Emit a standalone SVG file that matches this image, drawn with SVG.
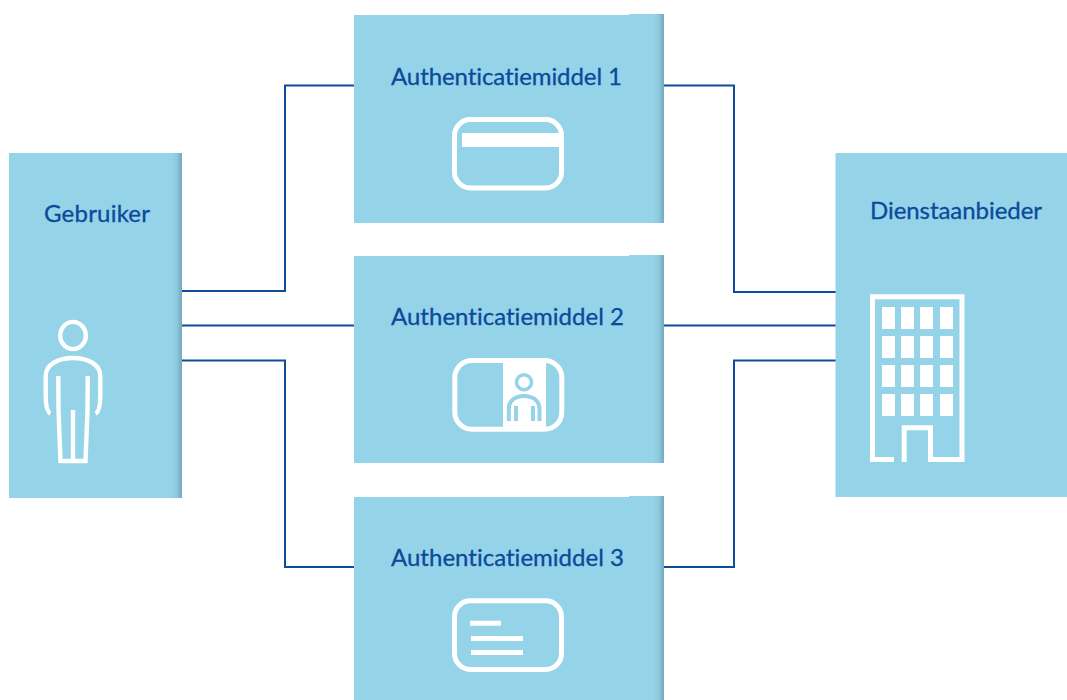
<svg xmlns="http://www.w3.org/2000/svg" width="1067" height="700" viewBox="0 0 1067 700">
<style>
.box{fill:#95d3e9}
.sh{fill:url(#edge)}
.lbl{font-family:"Lato","Noto Sans","Liberation Sans",sans-serif;font-size:24px;fill:#0b4a9b;stroke:#0b4a9b;stroke-width:0.3;font-variant-ligatures:none}
.ln{fill:none;stroke:#0f4c9c;stroke-width:2}
.ic{fill:none;stroke:#fff;stroke-width:4.4}
.icb{fill:none;stroke:#fff;stroke-width:5}
.w{fill:#fff}
.ip{fill:none;stroke:#95d3e9;stroke-width:4}
</style>
<defs>
<linearGradient id="edge" x1="0" x2="1" y1="0" y2="0">
<stop offset="0" stop-color="#95d3e9"/>
<stop offset="0.5" stop-color="#8ec9de"/>
<stop offset="1" stop-color="#72a9bd"/>
</linearGradient>
</defs>
<rect width="1067" height="700" fill="#fff"/>
<g id="connectors">
<path class="ln" d="M182,291H285V85.5H354"/>
<path class="ln" d="M182,325.5H354"/>
<path class="ln" d="M182,360.5H285V567H354"/>
<path class="ln" d="M664,85.5H734V292H836"/>
<path class="ln" d="M664,325.5H836"/>
<path class="ln" d="M664,567H734V360.5H836"/>
</g>
<g id="gebruiker">
<rect class="box" x="9" y="153" width="173" height="345"/>
<rect class="sh" x="171" y="153" width="11" height="345"/>
<text class="lbl" x="44" y="221.5" textLength="106">Gebruiker</text>
<ellipse class="ic" cx="73" cy="335.5" rx="12.8" ry="13.6"/>
<path class="ic" d="M50.5,413.5C46.5,412 45.7,404 45.7,394V376C45.7,364 59,358 73,358C87,358 100.3,364 100.3,376V394C100.3,404 99.5,412 95.5,413.5"/>
<path class="ic" d="M58.3,376L58.5,410L60.5,461H85.5L87.5,410L87.7,376M73,410V461"/>
</g>
<g id="middel1">
<path class="box" d="M354,15H629V14H664V223H354Z"/>
<rect class="sh" x="653" y="14" width="11" height="209"/>
<text class="lbl" x="391" y="85" textLength="231">Authenticatiemiddel 1</text>
<rect class="icb" x="454.5" y="119.5" width="107" height="68.5" rx="16"/>
<rect class="w" x="462" y="133" width="99" height="14"/>
</g>
<g id="middel2">
<path class="box" d="M354,256H629V255H664V463H354Z"/>
<rect class="sh" x="653" y="255" width="11" height="208"/>
<text class="lbl" x="391" y="325" textLength="233">Authenticatiemiddel 2</text>
<rect class="w" x="503" y="360" width="43" height="70"/>
<rect class="icb" x="454.8" y="360.5" width="107" height="68.7" rx="17"/>
<circle class="ip" style="stroke-width:3.5" cx="524" cy="382.3" r="7.5"/>
<path class="ip" d="M508.8,421V409C508.8,400 516,396 524,396C532,396 539.5,400 539.5,409V421M516,406V421M533,406V421"/>
</g>
<g id="middel3">
<path class="box" d="M354,497H629V496H664V700H354Z"/>
<rect class="sh" x="653" y="496" width="11" height="204"/>
<text class="lbl" x="391" y="566" textLength="233">Authenticatiemiddel 3</text>
<rect class="icb" x="454.5" y="600.8" width="107" height="68.7" rx="16"/>
<rect class="w" x="470" y="620.7" width="31" height="5"/>
<rect class="w" x="471" y="636" width="52" height="5"/>
<rect class="w" x="471" y="650" width="52" height="5"/>
</g>
<g id="dienstaanbieder">
<path class="box" d="M835.5,153H1067V497H835.5Z"/>
<text class="lbl" x="870" y="219" textLength="172">Dienstaanbieder</text>
<path class="icb" d="M894,459.5H872.5V296.8H962V459.5H930.5V427.8H904.2V462"/>
<g class="w">
<rect x="882" y="307" width="13" height="22"/><rect x="901" y="307" width="13" height="22"/><rect x="920" y="307" width="13" height="22"/><rect x="940" y="307" width="13" height="22"/>
<rect x="882" y="336" width="13" height="22"/><rect x="901" y="336" width="13" height="22"/><rect x="920" y="336" width="13" height="22"/><rect x="940" y="336" width="13" height="22"/>
<rect x="882" y="365" width="13" height="22"/><rect x="901" y="365" width="13" height="22"/><rect x="920" y="365" width="13" height="22"/><rect x="940" y="365" width="13" height="22"/>
<rect x="882" y="394" width="13" height="22"/><rect x="901" y="394" width="13" height="22"/><rect x="920" y="394" width="13" height="22"/><rect x="940" y="394" width="13" height="22"/>
</g>
</g>
</svg>
